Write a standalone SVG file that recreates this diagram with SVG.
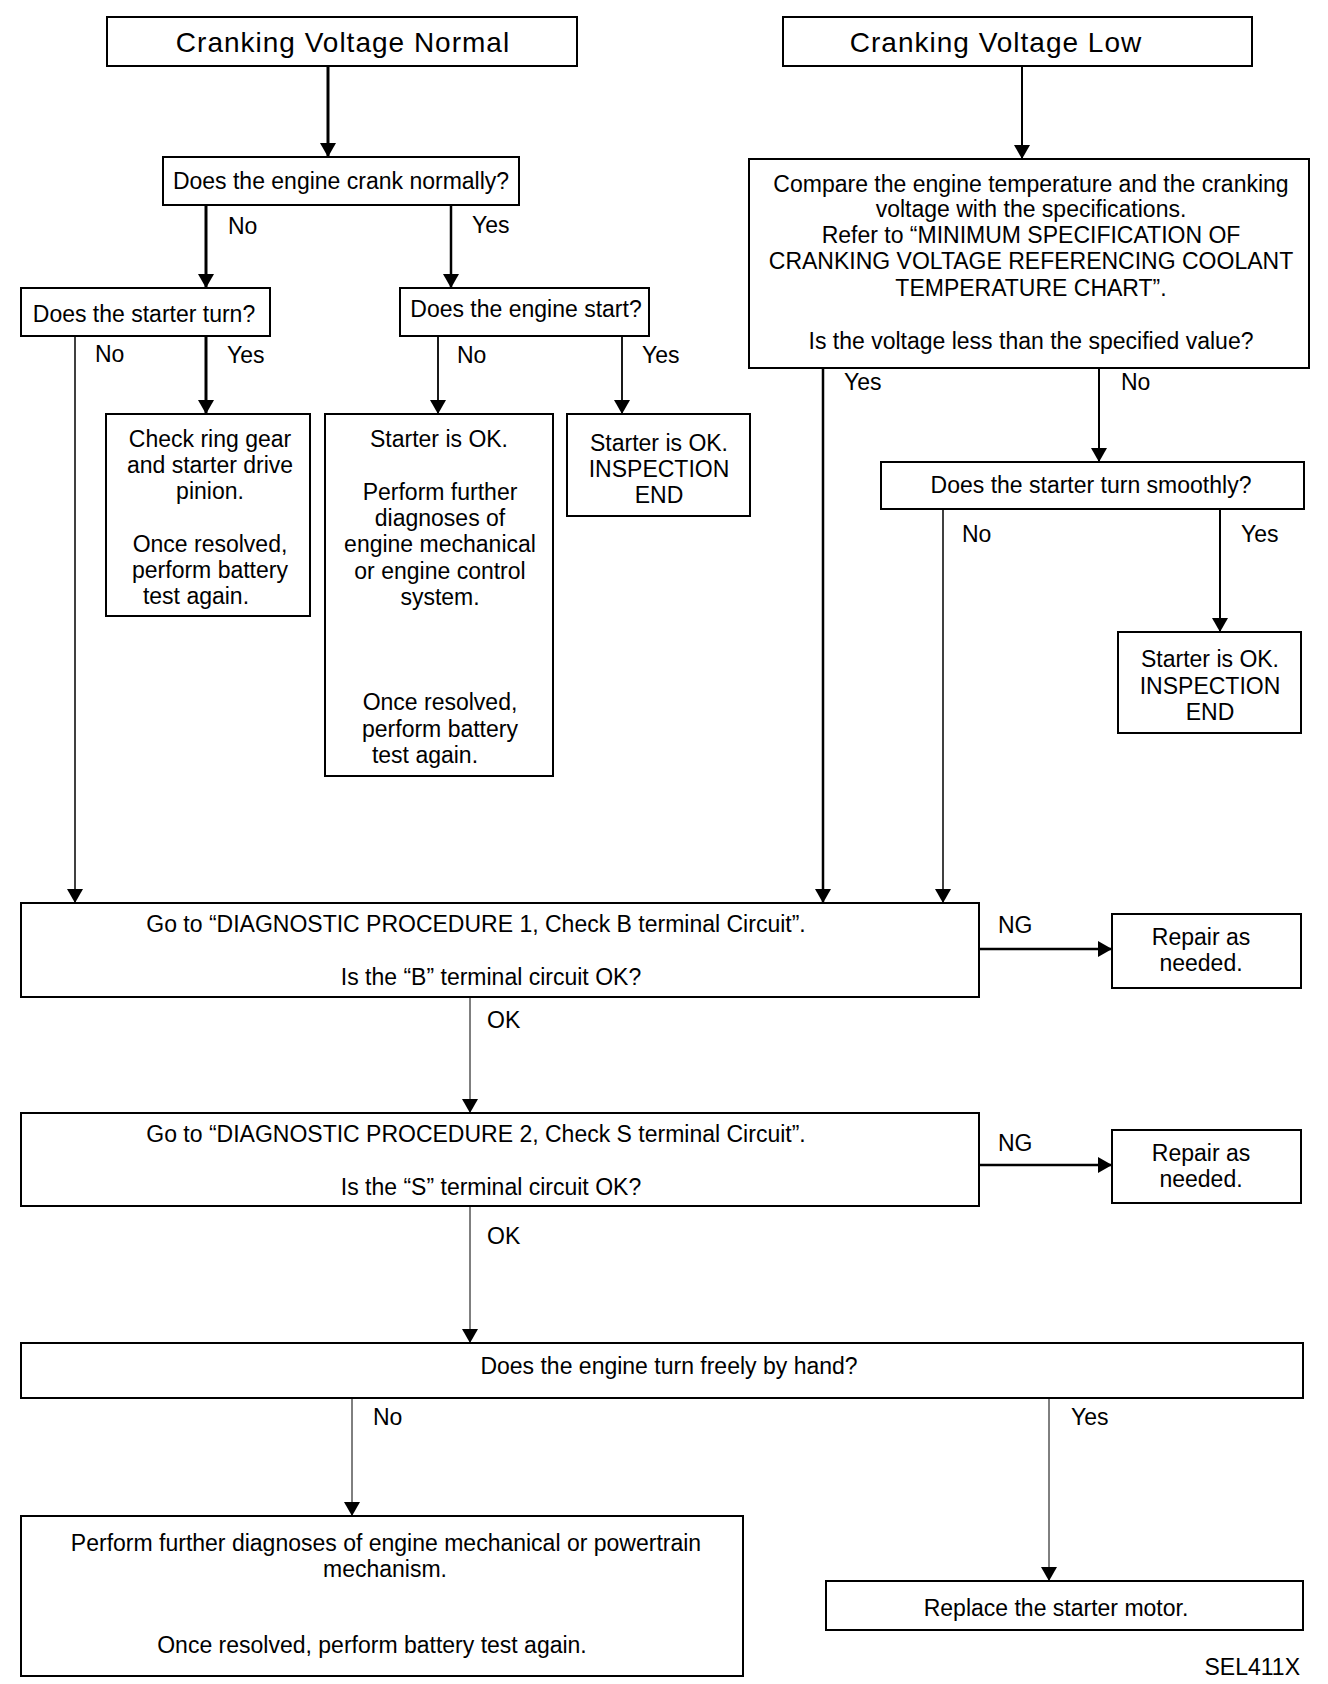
<svg xmlns="http://www.w3.org/2000/svg" width="1328" height="1684" viewBox="0 0 1328 1684">
<style>
.bg{fill:#fff}
.box{fill:#fff;stroke:#000;stroke-width:2}
.t{font-family:"Liberation Sans",Arial,Helvetica,sans-serif;font-size:23px;fill:#000;text-anchor:middle}
.title{font-size:28px;letter-spacing:1px}
.l{font-family:"Liberation Sans",Arial,Helvetica,sans-serif;font-size:23px;fill:#000;text-anchor:start}
.c{fill:none;stroke:#000}
</style>
<defs>
<marker id="ah" viewBox="0 0 14 16" refX="14" refY="8" markerWidth="14" markerHeight="16" markerUnits="userSpaceOnUse" orient="auto">
<path d="M0,0 L14,8 L0,16 Z" fill="#000"/>
</marker>
</defs>
<rect class="bg" x="0" y="0" width="1328" height="1684"/>

<g id="connectors">
<path class="c" d="M328,66 V157" stroke-width="3" marker-end="url(#ah)"/>
<path class="c" d="M206,205 V288" stroke-width="3" marker-end="url(#ah)"/>
<path class="c" d="M451,205 V288" stroke-width="2.5" marker-end="url(#ah)"/>
<path class="c" d="M75,336 V903" stroke-width="1.5" marker-end="url(#ah)"/>
<path class="c" d="M206,336 V414" stroke-width="3" marker-end="url(#ah)"/>
<path class="c" d="M438,336 V414" stroke-width="1.8" marker-end="url(#ah)"/>
<path class="c" d="M622,336 V414" stroke-width="1.8" marker-end="url(#ah)"/>
<path class="c" d="M1022,66 V159" stroke-width="2" marker-end="url(#ah)"/>
<path class="c" d="M823,368 V903" stroke-width="2.5" marker-end="url(#ah)"/>
<path class="c" d="M1099,368 V462" stroke-width="2" marker-end="url(#ah)"/>
<path class="c" d="M943,509 V903" stroke-width="1.5" marker-end="url(#ah)"/>
<path class="c" d="M1220,509 V632" stroke-width="2" marker-end="url(#ah)"/>
<path class="c" d="M979,949 H1112" stroke-width="2.5" marker-end="url(#ah)"/>
<path class="c" d="M470,997 V1113" stroke-width="1" marker-end="url(#ah)"/>
<path class="c" d="M979,1165 H1112" stroke-width="2.5" marker-end="url(#ah)"/>
<path class="c" d="M470,1206 V1343" stroke-width="1" marker-end="url(#ah)"/>
<path class="c" d="M352,1398 V1516" stroke-width="1" marker-end="url(#ah)"/>
<path class="c" d="M1049,1398 V1581" stroke-width="1" marker-end="url(#ah)"/>
<text class="l" x="228" y="234">No</text>
<text class="l" x="472" y="233">Yes</text>
<text class="l" x="95" y="362">No</text>
<text class="l" x="227" y="363">Yes</text>
<text class="l" x="457" y="363">No</text>
<text class="l" x="642" y="363">Yes</text>
<text class="l" x="844" y="390">Yes</text>
<text class="l" x="1121" y="390">No</text>
<text class="l" x="962" y="542">No</text>
<text class="l" x="1241" y="542">Yes</text>
<text class="l" x="998" y="933">NG</text>
<text class="l" x="487" y="1028">OK</text>
<text class="l" x="998" y="1151">NG</text>
<text class="l" x="487" y="1244">OK</text>
<text class="l" x="373" y="1425">No</text>
<text class="l" x="1071" y="1425">Yes</text>
</g>

<g id="n-normal">
<rect class="box" x="107" y="17" width="470" height="49"/>
<text class="t title" x="343" y="52">Cranking Voltage Normal</text>
</g>
<g id="n-low">
<rect class="box" x="783" y="17" width="469" height="49"/>
<text class="t title" x="996" y="52">Cranking Voltage Low</text>
</g>
<g id="n-crank">
<rect class="box" x="163" y="157" width="356" height="48"/>
<text class="t" x="341" y="189">Does the engine crank normally?</text>
</g>
<g id="n-starter-turn">
<rect class="box" x="21" y="288" width="249" height="48"/>
<text class="t" x="144" y="322">Does the starter turn?</text>
</g>
<g id="n-engine-start">
<rect class="box" x="400" y="288" width="249" height="48"/>
<text class="t" x="526" y="317">Does the engine start?</text>
</g>
<g id="n-ring-gear">
<rect class="box" x="106" y="414" width="204" height="202"/>
<text class="t" x="210" y="447">Check ring gear</text>
<text class="t" x="210" y="473">and starter drive</text>
<text class="t" x="210" y="499">pinion.</text>
<text class="t" x="210" y="552">Once resolved,</text>
<text class="t" x="210" y="578">perform battery</text>
<text class="t" x="196" y="604">test again.</text>
</g>
<g id="n-starter-ok-further">
<rect class="box" x="325" y="414" width="228" height="362"/>
<text class="t" x="439" y="447">Starter is OK.</text>
<text class="t" x="440" y="500">Perform further</text>
<text class="t" x="440" y="526">diagnoses of</text>
<text class="t" x="440" y="552">engine mechanical</text>
<text class="t" x="440" y="579">or engine control</text>
<text class="t" x="440" y="605">system.</text>
<text class="t" x="440" y="710">Once resolved,</text>
<text class="t" x="440" y="737">perform battery</text>
<text class="t" x="425" y="763">test again.</text>
</g>
<g id="n-starter-ok-end1">
<rect class="box" x="567" y="414" width="183" height="102"/>
<text class="t" x="659" y="451">Starter is OK.</text>
<text class="t" x="659" y="477">INSPECTION</text>
<text class="t" x="659" y="503">END</text>
</g>
<g id="n-compare">
<rect class="box" x="749" y="159" width="560" height="209"/>
<text class="t" x="1031" y="192">Compare the engine temperature and the cranking</text>
<text class="t" x="1031" y="217">voltage with the specifications.</text>
<text class="t" x="1031" y="243">Refer to “MINIMUM SPECIFICATION OF</text>
<text class="t" x="1031" y="269">CRANKING VOLTAGE REFERENCING COOLANT</text>
<text class="t" x="1031" y="296">TEMPERATURE CHART”.</text>
<text class="t" x="1031" y="349">Is the voltage less than the specified value?</text>
</g>
<g id="n-smoothly">
<rect class="box" x="881" y="462" width="423" height="47"/>
<text class="t" x="1091" y="493">Does the starter turn smoothly?</text>
</g>
<g id="n-starter-ok-end2">
<rect class="box" x="1118" y="632" width="183" height="101"/>
<text class="t" x="1210" y="667">Starter is OK.</text>
<text class="t" x="1210" y="694">INSPECTION</text>
<text class="t" x="1210" y="720">END</text>
</g>
<g id="n-proc1">
<rect class="box" x="21" y="903" width="958" height="94"/>
<text class="t" x="476" y="932">Go to “DIAGNOSTIC PROCEDURE 1, Check B terminal Circuit”.</text>
<text class="t" x="491" y="985">Is the “B” terminal circuit OK?</text>
</g>
<g id="n-repair1">
<rect class="box" x="1112" y="914" width="189" height="74"/>
<text class="t" x="1201" y="945">Repair as</text>
<text class="t" x="1201" y="971">needed.</text>
</g>
<g id="n-proc2">
<rect class="box" x="21" y="1113" width="958" height="93"/>
<text class="t" x="476" y="1142">Go to “DIAGNOSTIC PROCEDURE 2, Check S terminal Circuit”.</text>
<text class="t" x="491" y="1195">Is the “S” terminal circuit OK?</text>
</g>
<g id="n-repair2">
<rect class="box" x="1112" y="1130" width="189" height="73"/>
<text class="t" x="1201" y="1161">Repair as</text>
<text class="t" x="1201" y="1187">needed.</text>
</g>
<g id="n-by-hand">
<rect class="box" x="21" y="1343" width="1282" height="55"/>
<text class="t" x="669" y="1374">Does the engine turn freely by hand?</text>
</g>
<g id="n-further-mech">
<rect class="box" x="21" y="1516" width="722" height="160"/>
<text class="t" x="386" y="1551">Perform further diagnoses of engine mechanical or powertrain</text>
<text class="t" x="385" y="1577">mechanism.</text>
<text class="t" x="372" y="1653">Once resolved, perform battery test again.</text>
</g>
<g id="n-replace">
<rect class="box" x="826" y="1581" width="477" height="49"/>
<text class="t" x="1056" y="1616">Replace the starter motor.</text>
</g>
<text class="l" x="1300" y="1675" style="text-anchor:end">SEL411X</text>
</svg>
